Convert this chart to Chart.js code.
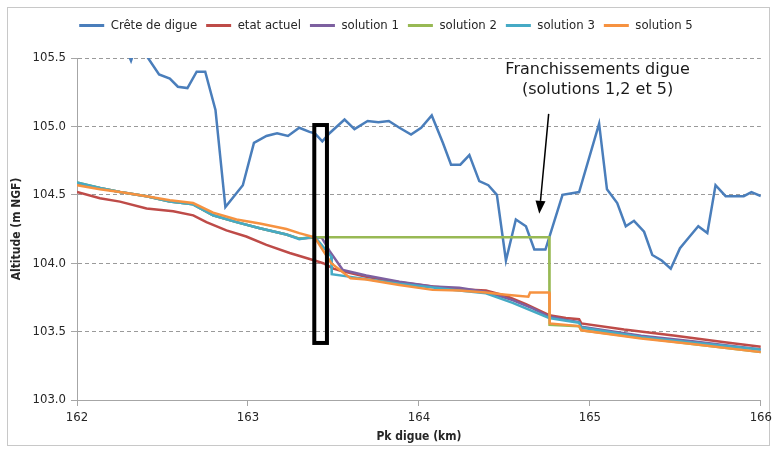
<!DOCTYPE html>
<html><head><meta charset="utf-8">
<script src="https://cdn.jsdelivr.net/npm/chart.js@4.4.1/dist/chart.umd.min.js"></script>
<style>html,body{margin:0;padding:0;background:#fff}#wrap{width:776px;height:452px}</style>
</head><body><div id="wrap"><canvas id="c" width="776" height="452"></canvas></div>
<script>
// ---- data ----
const seriesNames = ['Crête de digue', 'etat actuel', 'solution 1', 'solution 2', 'solution 3', 'solution 5'];
const xTickValues = [162, 163, 164, 165, 166];
const yTickValues = [103.0, 103.5, 104.0, 104.5, 105.0, 105.5];

const crestKm = [162.00, 162.10, 162.20, 162.27, 162.316, 162.37, 162.41, 162.48, 162.543, 162.59, 162.646, 162.70, 162.75, 162.81, 162.868, 162.97, 163.035, 163.108, 163.17, 163.234, 163.30, 163.36, 163.39, 163.435, 163.477, 163.565, 163.623, 163.70, 163.763, 163.824, 163.886, 163.954, 164.013, 164.075, 164.14, 164.188, 164.242, 164.295, 164.353, 164.406, 164.456, 164.509, 164.567, 164.626, 164.675, 164.74, 164.84, 164.937, 165.054, 165.10, 165.16, 165.21, 165.258, 165.317, 165.365, 165.42, 165.473, 165.527, 165.58, 165.634, 165.687, 165.735, 165.794, 165.848, 165.90, 165.945, 166.00];
const crestAlt = [105.72, 105.80, 105.70, 105.62, 105.48, 105.68, 105.51, 105.38, 105.35, 105.29, 105.28, 105.40, 105.40, 105.12, 104.41, 104.57, 104.88, 104.93, 104.95, 104.93, 104.99, 104.96, 104.95, 104.89, 104.95, 105.05, 104.98, 105.04, 105.03, 105.04, 104.99, 104.94, 104.99, 105.08, 104.88, 104.72, 104.72, 104.79, 104.60, 104.57, 104.50, 104.02, 104.32, 104.27, 104.10, 104.10, 104.50, 104.52, 105.02, 104.54, 104.44, 104.27, 104.31, 104.23, 104.06, 104.02, 103.96, 104.11, 104.19, 104.27, 104.22, 104.57, 104.49, 104.49, 104.49, 104.52, 104.49];

const etatKm = [162.00, 162.134, 162.251, 162.407, 162.563, 162.68, 162.757, 162.874, 162.99, 163.108, 163.244, 163.39, 163.44, 163.50, 163.555, 163.692, 163.886, 164.08, 164.236, 164.392, 164.51, 164.626, 164.762, 164.86, 164.937, 164.95, 165.20, 165.50, 165.80, 166.00];
const etatAlt = [104.52, 104.475, 104.45, 104.40, 104.38, 104.35, 104.30, 104.24, 104.195, 104.134, 104.075, 104.02, 104.00, 103.96, 103.94, 103.90, 103.86, 103.83, 103.81, 103.80, 103.76, 103.70, 103.62, 103.60, 103.59, 103.56, 103.515, 103.47, 103.42, 103.39];

const sol1Km = [162.00, 162.134, 162.251, 162.407, 162.543, 162.679, 162.796, 162.933, 163.069, 163.225, 163.30, 163.43, 163.477, 163.555, 163.692, 163.886, 164.08, 164.236, 164.392, 164.548, 164.665, 164.762, 164.86, 164.937, 164.95, 165.30, 165.60, 166.00];
const sol1Alt = [104.585, 104.55, 104.52, 104.49, 104.45, 104.43, 104.35, 104.30, 104.255, 104.21, 104.18, 104.19, 104.09, 103.95, 103.91, 103.865, 103.83, 103.82, 103.79, 103.73, 103.67, 103.61, 103.585, 103.57, 103.535, 103.47, 103.43, 103.37];

const sol2Km = [162.00, 162.134, 162.251, 162.407, 162.543, 162.679, 162.796, 162.933, 163.069, 163.225, 163.30, 163.39, 164.762, 164.764, 164.937, 164.95, 165.30, 165.60, 166.00];
const sol2Alt = [104.59, 104.55, 104.52, 104.49, 104.45, 104.43, 104.35, 104.30, 104.255, 104.21, 104.18, 104.19, 104.19, 103.55, 103.54, 103.51, 103.455, 103.41, 103.35];

const sol3Km = [162.00, 162.134, 162.251, 162.407, 162.543, 162.679, 162.796, 162.933, 163.069, 163.225, 163.30, 163.39, 163.487, 163.49, 163.60, 163.886, 164.236, 164.392, 164.548, 164.762, 164.86, 164.937, 164.95, 165.30, 165.60, 166.00];
const sol3Alt = [104.59, 104.55, 104.52, 104.49, 104.45, 104.43, 104.35, 104.30, 104.255, 104.21, 104.175, 104.195, 104.05, 103.92, 103.90, 103.85, 103.80, 103.78, 103.71, 103.60, 103.58, 103.565, 103.53, 103.46, 103.42, 103.37];

const sol5Km = [162.00, 162.134, 162.251, 162.407, 162.543, 162.679, 162.796, 162.933, 163.069, 163.225, 163.30, 163.39, 163.487, 163.60, 163.692, 163.886, 164.08, 164.236, 164.392, 164.51, 164.64, 164.65, 164.762, 164.765, 164.937, 164.95, 165.30, 165.60, 166.00];
const sol5Alt = [104.57, 104.54, 104.52, 104.49, 104.46, 104.44, 104.37, 104.32, 104.29, 104.25, 104.22, 104.19, 104.00, 103.89, 103.88, 103.84, 103.805, 103.80, 103.785, 103.77, 103.755, 103.785, 103.785, 103.56, 103.54, 103.51, 103.45, 103.41, 103.35];

// annotations (data units)
const boxKm = [163.388, 163.462];
const boxAlt = [103.417, 105.01];
const arrowKm = [164.759, 164.704];
const arrowAlt = [105.092, 104.361];
const noteKm = 165.045;
const noteAlt = [105.41, 105.265];
const noteLines = ['Franchissements digue', '(solutions 1,2 et 5)'];

const colors = ['#4A7EBB', '#BE4B48', '#7D60A0', '#98B954', '#46AAC5', '#F69240'];

// ---- build ----
function pts(xs, ys) { return xs.map((x, i) => ({x: x, y: ys[i]})); }
const seriesData = [pts(crestKm, crestAlt), pts(etatKm, etatAlt), pts(sol1Km, sol1Alt), pts(sol2Km, sol2Alt), pts(sol3Km, sol3Alt), pts(sol5Km, sol5Alt)];

const FONT = "'Liberation Sans Narrow', 'DejaVu Sans Condensed', 'Liberation Sans', sans-serif";

const datasets = seriesNames.map((n, i) => ({
  label: n,
  data: seriesData[i],
  showLine: true,
  borderColor: colors[i],
  backgroundColor: colors[i],
  borderWidth: 2.5,
  pointRadius: 0,
  pointHoverRadius: 0,
  tension: 0,
  order: seriesNames.length - 1 - i
}));

const annotPlugin = {
  id: 'annot',
  beforeLayout(chart) {
    const lg = chart.legend;
    if (lg && !lg._patched) {
      const orig = lg.fit;
      lg.fit = function () { orig.call(this); this.height = 48; };
      lg._patched = true;
    }
  },
  beforeDraw(chart) {
    const c = chart.ctx;
    c.save();
    c.fillStyle = '#ffffff';
    c.fillRect(0, 0, chart.width, chart.height);
    c.strokeStyle = '#c8c8c8';
    c.lineWidth = 1;
    c.strokeRect(7.5, 7.5, 762, 438);
    c.restore();
  },
  afterDatasetsDraw(chart) {
    const c = chart.ctx, xs = chart.scales.x, ys = chart.scales.y;
    c.save();
    // rectangle
    const x1 = xs.getPixelForValue(boxKm[0]), x2 = xs.getPixelForValue(boxKm[1]);
    const y1 = ys.getPixelForValue(boxAlt[1]), y2 = ys.getPixelForValue(boxAlt[0]);
    c.strokeStyle = '#000';
    c.lineWidth = 4;
    c.strokeRect(x1, y1, x2 - x1, y2 - y1);
    // arrow
    const ax1 = xs.getPixelForValue(arrowKm[0]), ay1 = ys.getPixelForValue(arrowAlt[0]);
    const ax2 = xs.getPixelForValue(arrowKm[1]), ay2 = ys.getPixelForValue(arrowAlt[1]);
    const ang = Math.atan2(ay2 - ay1, ax2 - ax1);
    const L = 13, W = 5;
    const bx = ax2 - L * Math.cos(ang), by = ay2 - L * Math.sin(ang);
    c.lineWidth = 1.5;
    c.beginPath(); c.moveTo(ax1, ay1); c.lineTo(bx, by); c.stroke();
    c.fillStyle = '#000';
    c.beginPath();
    c.moveTo(ax2, ay2);
    c.lineTo(bx + W * Math.sin(ang), by - W * Math.cos(ang));
    c.lineTo(bx - W * Math.sin(ang), by + W * Math.cos(ang));
    c.closePath(); c.fill();
    // text
    c.fillStyle = '#1a1a1a';
    c.font = "16px 'DejaVu Sans', sans-serif";
    c.textAlign = 'center';
    c.textBaseline = 'middle';
    const tx = xs.getPixelForValue(noteKm);
    noteLines.forEach((t, i) => c.fillText(t, tx, ys.getPixelForValue(noteAlt[i])));
    c.restore();
  }
};

new Chart(document.getElementById('c'), {
  type: 'scatter',
  data: { datasets: datasets },
  plugins: [annotPlugin],
  options: {
    responsive: false,
    animation: false,
    devicePixelRatio: 1,
    layout: { padding: { left: 10, right: 14, top: 10, bottom: 8 } },
    plugins: {
      tooltip: { enabled: false },
      legend: {
        position: 'top',
        labels: {
          boxWidth: 25,
          boxHeight: 3,
          padding: 9,
          color: '#262626',
          font: { family: FONT, size: 13 },
          sort: (a, b) => a.datasetIndex - b.datasetIndex,
          generateLabels: (chart) => Chart.defaults.plugins.legend.labels.generateLabels(chart).map(it => {
            it.fillStyle = it.strokeStyle; it.lineWidth = 0; return it;
          })
        }
      }
    },
    scales: {
      x: {
        type: 'linear',
        min: 162, max: 166,
        afterBuildTicks: s => { s.ticks = xTickValues.map(v => ({value: v})); },
        afterFit: s => { s.height = 44; },
        ticks: { color: '#262626', font: { family: FONT, size: 13 }, padding: 4, maxRotation: 0, autoSkip: false, callback: v => String(v) },
        grid: { drawOnChartArea: false, drawTicks: true, tickLength: 6, tickColor: '#a6a6a6', color: '#a6a6a6' },
        border: { color: '#a6a6a6', width: 1 },
        title: { display: true, text: 'Pk digue (km)', color: '#262626', font: { family: FONT, size: 12, weight: 'bold' }, padding: { top: 2, bottom: 0 } }
      },
      y: {
        min: 103, max: 105.5,
        afterBuildTicks: s => { s.ticks = yTickValues.map(v => ({value: v})); },
        afterFit: s => { s.width = 67; },
        ticks: { color: '#262626', font: { family: FONT, size: 13 }, padding: 5, callback: v => Number(v).toFixed(1) },
        grid: {
          color: ctx => (ctx.tick && ctx.tick.value === 103) ? 'rgba(0,0,0,0)' : '#9a9a9a',
          lineWidth: 1, drawTicks: true, tickLength: 6, tickColor: '#a6a6a6', tickBorderDash: []
        },
        border: { color: '#a6a6a6', width: 1, dash: [4, 3] },
        title: { display: true, text: 'Altitude (m NGF)', color: '#262626', font: { family: FONT, size: 12, weight: 'bold' }, padding: { top: 0, bottom: 4 } }
      }
    }
  }
});
</script>
</body></html>
